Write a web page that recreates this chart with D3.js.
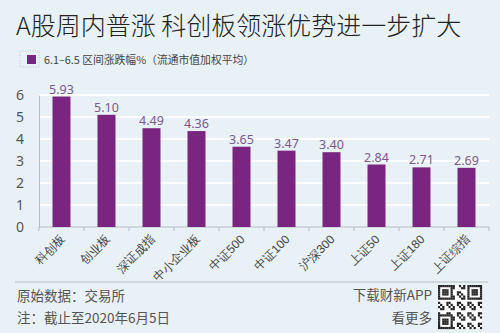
<!DOCTYPE html>
<html><head><meta charset="utf-8">
<script src="https://cdn.jsdelivr.net/npm/d3@7"></script>
<style>html,body{margin:0;padding:0;background:#e8f1f5;}svg{display:block;font-family:"Noto Sans CJK SC","Noto Sans",sans-serif;}</style>
</head><body>
<svg id="c" width="500" height="333"></svg>
<script>
const categories = ["科创板","创业板","深证成指","中小企业板","中证500","中证100","沪深300","上证50","上证180","上证综指"];
const values = [5.93,5.10,4.49,4.36,3.65,3.47,3.40,2.84,2.71,2.69];
const yTicks = [0,1,2,3,4,5,6];
const title = "A股周内普涨 科创板领涨优势进一步扩大";
const legendLabel = "6.1–6.5 区间涨跌幅%（流通市值加权平均）";
const sourceText = "原始数据：交易所";
const noteText = "注：截止至2020年6月5日";
const appText1 = "下载财新APP";
const appText2 = "看更多";

const svg = d3.select("#c");
svg.append("rect").attr("width",500).attr("height",333).attr("fill","#e8f1f5");

svg.append("text").attr("x",16).attr("y",35).attr("font-size",25).attr("font-weight",300).attr("fill","#222").text(title);

// legend
svg.append("rect").attr("x",20).attr("y",51).attr("width",19).attr("height",16)
  .attr("fill","none").attr("stroke","#b8c0c8").attr("stroke-dasharray","1,1.5").attr("stroke-width",0.8);
svg.append("rect").attr("x",27).attr("y",55).attr("width",9).attr("height",9).attr("fill","#7a2680");
svg.append("text").attr("x",44).attr("y",64).attr("font-size",10.8).attr("fill","#444").text(legendLabel);

const x = d3.scaleBand().domain(categories).range([39,489]).paddingInner(0.6).paddingOuter(0.3);
const y = d3.scaleLinear().domain([0,6]).range([227,95]);

// grid
svg.append("g").selectAll("line").data(yTicks.filter(d=>d>0)).join("line")
  .attr("x1",39).attr("x2",489).attr("y1",d=>y(d)).attr("y2",d=>y(d))
  .attr("stroke","#fff").attr("stroke-width",2);

// y axis
const ya = svg.append("g").attr("transform","translate(39,0)")
  .call(d3.axisLeft(y).tickValues(yTicks).tickSize(0).tickPadding(15).tickFormat(d3.format("d")));
ya.select(".domain").attr("stroke","#b5bcc2");
ya.selectAll("text").attr("font-size",14).attr("fill","#555").attr("font-family","Noto Sans, sans-serif");

// x axis
const bandStep = x.step();
const xa = svg.append("g").attr("transform",`translate(0,${y(0)})`)
  .call(d3.axisBottom(x).tickSize(0).tickPadding(0));
xa.select(".domain").attr("stroke","#b5bcc2").attr("d",`M39,0H489`);
xa.selectAll(".tick line").remove();
svg.append("g").selectAll("line").data(d3.range(categories.length+1)).join("line")
  .attr("x1",i=>39+i*bandStep).attr("x2",i=>39+i*bandStep).attr("y1",y(0)).attr("y2",y(0)+4)
  .attr("stroke","#b5bcc2");
xa.selectAll(".tick text")
  .attr("font-size",12).attr("fill","#444").attr("text-anchor","end")
  .attr("transform","translate(1,10) rotate(-45)").attr("dy","0.35em");

// bars
svg.append("g").selectAll("rect").data(values).join("rect")
  .attr("x",(d,i)=>x(categories[i])).attr("width",x.bandwidth())
  .attr("y",d=>y(d)).attr("height",d=>y(0)-y(d)).attr("fill","#7a2680");

svg.append("g").selectAll("text").data(values).join("text")
  .attr("x",(d,i)=>x(categories[i])+x.bandwidth()/2).attr("y",d=>y(d)-3)
  .attr("text-anchor","middle").attr("font-size",12.5).attr("fill","#7a5a8c")
  .attr("font-family","Noto Sans, sans-serif").text(d=>d.toFixed(2));

// footer
svg.append("line").attr("x1",15).attr("x2",488).attr("y1",282).attr("y2",282).attr("stroke","#b5bcc2");
svg.append("text").attr("x",17).attr("y",301).attr("font-size",13.5).attr("fill","#555").text(sourceText);
svg.append("text").attr("x",17).attr("y",323).attr("font-size",13.5).attr("fill","#555").text(noteText);
svg.append("text").attr("x",432).attr("y",300).attr("text-anchor","end").attr("font-size",13.5).attr("fill","#555").text(appText1);
svg.append("text").attr("x",432).attr("y",323).attr("text-anchor","end").attr("font-size",13.5).attr("fill","#555").text(appText2);

// QR-like decoration (deterministic pattern)
const qx=438, qy=285, n=21, cs=44/n;
const qr = svg.append("g");
qr.append("rect").attr("x",qx).attr("y",qy).attr("width",44).attr("height",44).attr("fill","#fff");
const cells=[];
for(let r=0;r<n;r++)for(let c=0;c<n;c++){
  const inF=(a,b)=>r>=a&&r<a+7&&c>=b&&c<b+7;
  let on;
  if(inF(0,0)||inF(0,14)||inF(14,0)){
    const a=r<7?0:14, b=c<7?0:14;
    const rr=r-a, cc=c-b;
    on = rr==0||rr==6||cc==0||cc==6||(rr>=2&&rr<=4&&cc>=2&&cc<=4);
  } else on = ((r*7+c*13+r*c)%5)<2;
  if(on) cells.push([r,c]);
}
qr.selectAll("rect.m").data(cells).join("rect").attr("class","m")
  .attr("x",d=>qx+d[1]*cs).attr("y",d=>qy+d[0]*cs).attr("width",cs+0.1).attr("height",cs+0.1).attr("fill","#222");
</script>
</body></html>
